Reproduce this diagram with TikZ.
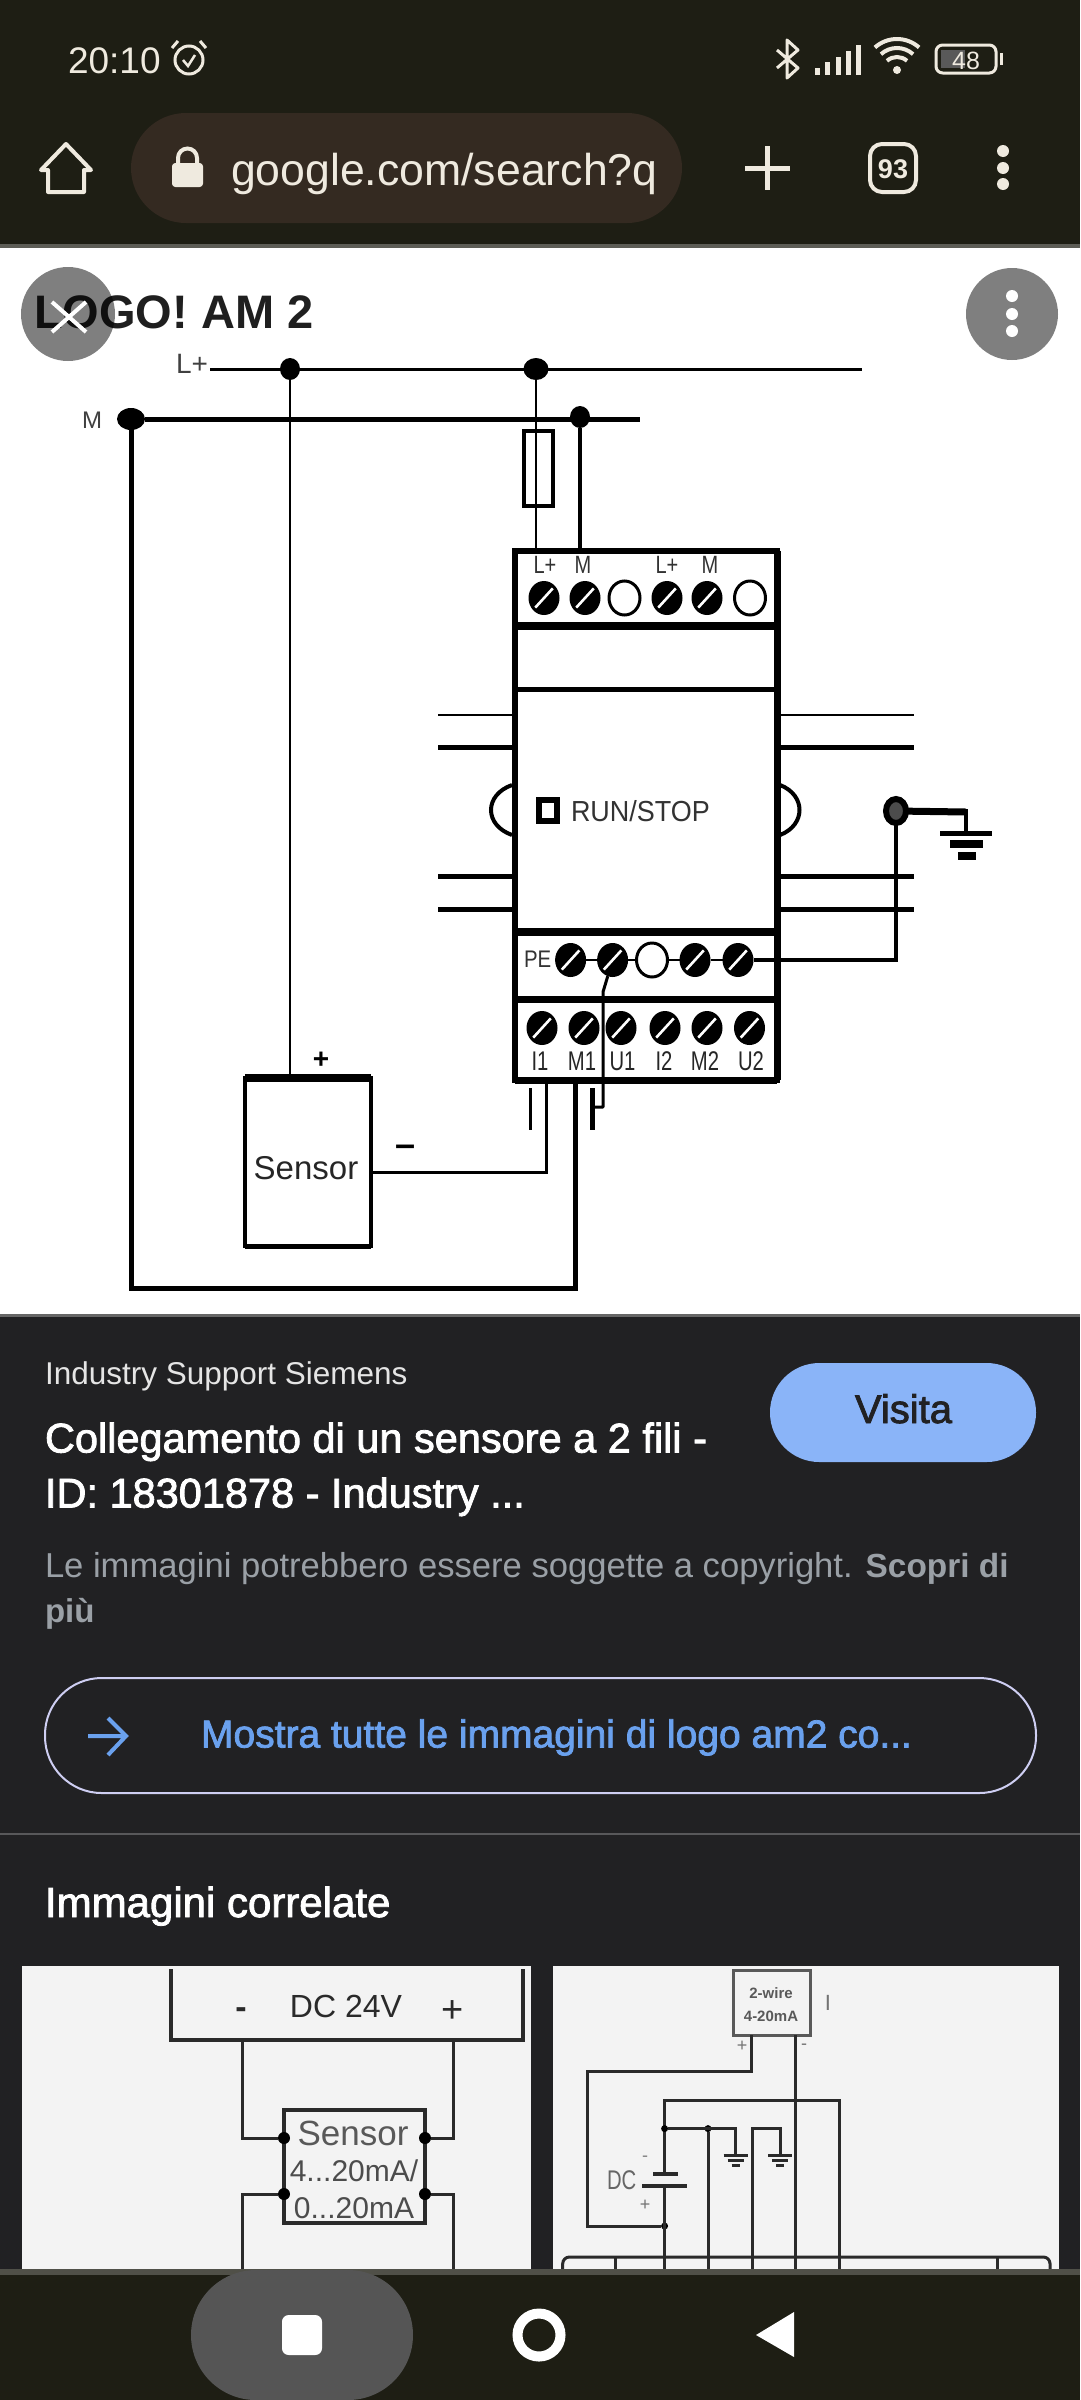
\documentclass[tikz,border=0pt]{standalone}
\usepackage{fontspec}
\usetikzlibrary{shapes.geometric}
\setmainfont{Liberation Sans}
\newfontfamily\medf[FakeBold=2]{Liberation Sans}
\newcommand\fs[1]{\fontsize{\fpeval{#1*0.8536}pt}{\fpeval{#1*1.0}pt}\selectfont}
\newcommand\px[1]{\fpeval{#1*0.03}cm}
\definecolor{barbg}{HTML}{1E1E14}
\definecolor{urlbg}{HTML}{342A21}
\definecolor{icon}{HTML}{EFEADF}
\definecolor{panel}{HTML}{212123}
\definecolor{pillblue}{HTML}{8AB4F8}
\definecolor{linkblue}{HTML}{6AA1EE}
\definecolor{grayt}{HTML}{9AA0A6}
\definecolor{card}{HTML}{F3F3F3}
\definecolor{cardink}{HTML}{2A2A2A}
\definecolor{navpill}{HTML}{555555}
\tikzset{
  lw/.style={line width=\fpeval{#1*0.8536}pt},
  txt/.style={inner sep=0,outer sep=0,anchor=base west},
  ctxt/.style={inner sep=0,outer sep=0,anchor=base},
  screwbase/.style={ellipse,inner sep=0,outer sep=0,minimum width={\px{31}},minimum height={\px{34}}},
  screwf/.style={screwbase,fill=black,path picture={\draw[white,lw=2.6,shorten <=\px{10},shorten >=\px{10}] (path picture bounding box.south west)--(path picture bounding box.north east);}},
  screwo/.style={screwbase,draw=black,fill=white,lw=3},
  jdot/.style={ellipse,fill=black,inner sep=0,outer sep=0,minimum width={\px{20}},minimum height={\px{22}}},
  cdot/.style={circle,fill=black,inner sep=0,outer sep=0,minimum size={\px{12}}},
  cwire/.style={draw=cardink,lw=3},
}
\begin{document}
\begin{tikzpicture}[x=0.03cm,y=-0.03cm]
\useasboundingbox (0,0) rectangle (1080,2400);
% ---------- backgrounds
\fill[white] (0,0) rectangle (1080,1316);
\fill[barbg] (0,0) rectangle (1080,245);
\fill[white!28!barbg] (0,244) rectangle (1080,248);
% ---------- status bar
\node[txt,text=icon] (clock) at (68,73) {\fs{37}20:10};
\draw[icon,lw=3] (189,60) circle (14);
\draw[icon,lw=2.5] (183,60)--(188,66)--(195,55);
\draw[icon,lw=3] (172,48)--(178,41) (206,48)--(200,41);
\draw[icon,lw=3,line join=round] (777,50)--(798,68)--(787,78)--(787,40)--(798,50)--(777,68);
\foreach \i/\t in {0/68,1/62,2/57,3/51,4/45}
  \fill[icon] ({815+\i*10.3},\t) rectangle ({820+\i*10.3},75);
\foreach \r in {15,24,33}
  \draw[icon,lw=4] (897,72) ++(-48:\r) arc[start angle=-48,end angle=-132,radius=\r];
\fill[icon] (897,70) circle (4);
\draw[icon,lw=3,rounded corners=0.2cm] (936,45) rectangle (996,73);
\fill[gray!70!black] (941,50) rectangle (965,68);
\fill[icon] (1000,53) rectangle (1003,65);
\node[ctxt,text=icon] (batt) at (966,69) {\fs{25}48};
% ---------- toolbar
\draw[icon,lw=4,line join=round] (66,144)--(91,170)--(84,170)--(84,192)--(48,192)--(48,170)--(41,170)--cycle;
\fill[urlbg,rounded corners=1.65cm] (131,113) rectangle (682,223);
\fill[icon,rounded corners=0.1cm] (172,163) rectangle (203,187);
\draw[icon,lw=4] (178,164)--(178,158) arc[start angle=180,end angle=360,radius=9.5]--(197,164);
\node[txt,text=icon] (url) at (231,185) {\fs{44.6}google.com/search?q};
\draw[icon,lw=5] (745,168)--(790,168) (767,146)--(767,190);
\draw[icon,lw=4,rounded corners=0.36cm] (870,144) rectangle (916,192);
\node[ctxt,text=icon] (tabs) at (893,178) {\fs{27}\bfseries 93};
\foreach \y in {151,168,184} \fill[icon] (1003,\y) circle (6);
% ---------- diagram
\node[txt,text=black!88] (title) at (34,328) {\fs{47}\bfseries LOGO! AM 2};
\node[txt,text=black!75] (lLp) at (176,373) {\fs{28}L+};
\node[ctxt,text=black!75] (lM) at (92,428) {\fs{24}M};
% supply rails
\coordinate (Lstart) at (210,369); \coordinate (Lend) at (862,369);
\coordinate (Mend) at (640,419);
\node[jdot] (jL1) at (290,369) {};
\node[jdot,minimum width={\px{25}}] (jL2) at (536,369) {};
\node[jdot,minimum width={\px{28}}] (jM1) at (131,419) {};
\node[jdot] (jM2) at (580,417) {};
\draw[lw=3] (Lstart)--(Lend);
\draw[lw=5] (jM1)--(Mend);
% module
\node[draw=black,lw=6,inner sep=0,outer sep=0,minimum width={\px{262}},minimum height={\px{529}},fill=white] (mod) at (646,815.5) {};
\draw[lw=8] (mod.west |- 0,626)--(mod.east |- 0,626);
\draw[lw=5] (mod.west |- 0,689)--(mod.east |- 0,689);
\draw[lw=8] (mod.west |- 0,932)--(mod.east |- 0,932);
\draw[lw=7] (mod.west |- 0,999)--(mod.east |- 0,999);
\draw[lw=7] (mod.south west)--(mod.south east);
\draw[lw=7] (mod.north east)--(mod.south east);
% fuse and supply drops
\node[draw=black,lw=4,fill=white,inner sep=0,outer sep=0,minimum width={\px{29}},minimum height={\px{75}}] (fuse) at (538,468) {};
\draw[lw=4] (fuse.north west)--(fuse.north east);
\draw[lw=2.5] (jL2)--(jL2 |- mod.north);
\draw[lw=4] (jM2)--(jM2 |- mod.north);
% rails of the DIN clip
\foreach \y/\w in {715/2,747/5,876/5,909/5}{
  \draw[lw=\w] (438,\y)--(mod.west |- 0,\y);
  \draw[lw=\w] (mod.east |- 0,\y)--(914,\y);
}
\draw[lw=4] (512,785) .. controls (484,795) and (484,825) .. (512,835);
\draw[lw=4] (780,785) .. controls (806,795) and (806,825) .. (780,835);
% top terminals
\foreach \n/\x in {t1/544,t2/585,t4/667,t5/707} \node[screwf] (\n) at (\x,598) {};
\foreach \n/\x in {t3/624.5,t6/750} \node[screwo] (\n) at (\x,598) {};
\foreach \x/\t in {545/L+,583/M,667/L+,710/M}
  \node[ctxt,text=black!80] at (\x,573) {\scalebox{0.8}[1]{\fs{25}\t}};
% run stop
\node[draw=black,lw=6,fill=white,inner sep=0,outer sep=0,minimum width={\px{18}},minimum height={\px{21}}] (btn) at (548,810) {};
\node[txt,text=black!80] (runstop) at (571,821) {\scalebox{0.93}[1]{\fs{29}RUN/STOP}};
% PE row
\foreach \n/\x in {p1/570.6,p2/612.6,p4/695,p5/738} \node[screwf] (\n) at (\x,960) {};
\node[screwo] (p3) at (652,960) {};
\draw[lw=2] (p1)--(p2) (p2)--(p3) (p3)--(p4) (p4)--(p5);
\node[txt,text=black!80] (lPE) at (524,967) {\scalebox{0.85}[1]{\fs{24}PE}};
% earth
\node[ellipse,fill=black!70,draw=black,lw=6,inner sep=0,outer sep=0,minimum width={\px{20}},minimum height={\px{24}}] (gnode) at (896,811) {};
\coordinate (gtop) at (966,812); \coordinate (gbar) at (966,831);
\draw[lw=7] (gnode)--(gtop);
\draw[lw=4] (966,809)--(gbar);
\draw[lw=5] (940,833)--(992,833);
\draw[lw=8] (950,844)--(983,844);
\draw[lw=8] (958,856)--(976,856);
\draw[lw=4] (p5)-|(gnode);
% bottom terminals
\foreach \n/\x in {i1/542,m1/584,u1/621,i2/665,m2/707,u2/749.5} \node[screwf] (\n) at (\x,1028) {};
\foreach \x/\t in {540/I1,582/M1,622.5/U1,664/I2,705/M2,751/U2}
  \node[ctxt,text=black!85] at (\x,1070) {\scalebox{0.75}[1]{\fs{27}\t}};
% PE jumper
\coordinate (je) at (603,992); \coordinate (jb) at (603,1107); \coordinate (jc) at (592,1107);
\draw[lw=3,line join=round] (p2)--(je)--(jb)--(jc);
\draw[lw=5] (592,1088)--(592,1130);
\draw[lw=3] (530,1088)--(530,1130);
% sensor
\node[draw=black,lw=4,fill=white,inner sep=0,outer sep=0,minimum width={\px{126}},minimum height={\px{168}}] (sensor) at (308,1162) {};
\draw[lw=8] (sensor.north west)--(sensor.north east);
\draw[lw=5] (sensor.south west)--(sensor.south east);
\node[ctxt,text=black!85] (lSensor) at (306,1179) {\fs{33}Sensor};
\node[ctxt] (lplus) at (321,1068) {\fs{28}\bfseries +};
\node[ctxt] (lminus) at (406,1156) {\fs{36}\bfseries –};
\draw[lw=2] (jL1)--(jL1 |- sensor.north);
\coordinate (i1foot) at (546,1083);
\draw[lw=3] (sensor.east |- 0,1172)-|(i1foot);
\coordinate (m1foot) at (575,1083); \coordinate (loopR) at (575,1288); \coordinate (loopL) at (131,1288);
\draw[lw=5,line join=miter] (jM1)--(loopL)--(loopR)--(m1foot);
% ---------- overlay buttons
\fill[black,opacity=.5] (68,314) circle (47);
\fill[black,opacity=.5] (1012,314) circle (46);
\draw[white,lw=4] (52,302)--(86,332) (86,302)--(52,332);
\foreach \y in {296,314,331} \fill[white] (1012,\y) circle (6);
% ---------- info panel
\fill[panel] (0,1316) rectangle (1080,2272);
\fill[black!60] (0,1314) rectangle (1080,1317);
\node[txt,text=white!90!black] (src) at (45,1384) {\fs{31.5}Industry Support Siemens};
\node[txt,text=white] (t1l) at (45,1452.5) {\fs{41.5}\medf Collegamento di un sensore a 2 fili -};
\node[txt,text=white] (t2l) at (45,1507.5) {\fs{41.5}\medf ID: 18301878 - Industry ...};
\node[txt,text=grayt] (c1l) at (45,1577) {\fs{34.6}Le immagini potrebbero essere soggette a copyright. \fs{33.4}\bfseries Scopri di};
\node[txt,text=grayt] (c2l) at (45,1622) {\fs{33}\bfseries più};
\fill[pillblue,rounded corners=1.48cm] (770,1363) rectangle (1036,1462);
\node[ctxt,text=panel] (visita) at (903.5,1423) {\fs{40}\medf Visita};
\draw[white!85!blue!95!black,lw=2,rounded corners=1.7cm] (45,1678) rectangle (1036,1793);
\draw[linkblue,lw=4,line join=miter] (88,1736)--(124,1736) (108,1718)--(126,1736)--(108,1755);
\node[txt,text=linkblue] (more) at (201,1747.5) {\fs{39}\medf Mostra tutte le immagini di logo am2 co...};
\fill[white!25!panel] (0,1833) rectangle (1080,1835);
\node[txt,text=white] (rel) at (45,1917) {\fs{42}\medf Immagini correlate};
% ---------- card 1
\fill[card] (22,1966) rectangle (531,2272);
\fill[card] (553,1966) rectangle (1059,2272);
\coordinate (bxTL) at (171,1969); \coordinate (bxBL) at (171,2040); \coordinate (bxBR) at (523,2040); \coordinate (bxTR) at (523,1969);
\draw[cwire,lw=4] (bxTL)--(bxBL)--(bxBR)--(bxTR);
\node[ctxt,text=cardink] (dcm) at (241,2018) {\fs{34}\bfseries -};
\node[ctxt,text=cardink] (dc) at (346,2017) {\fs{32}DC 24V};
\node[ctxt,text=cardink] (dcp) at (453,2022) {\fs{38}+};
\node[draw=cardink,lw=4,fill=card,inner sep=0,outer sep=0,minimum width={\px{141}},minimum height={\px{113}}] (sbox) at (354.5,2166.5) {};
\node[ctxt,text=black!65] (s1) at (353,2145) {\fs{35}Sensor};
\node[ctxt,text=black!70] (s2) at (354,2181) {\fs{30}4...20mA/};
\node[ctxt,text=black!70] (s3) at (354,2218) {\fs{30}0...20mA};
\node[cdot] (d1) at (284,2138) {}; \node[cdot] (d2) at (425,2138) {};
\node[cdot] (d3) at (284,2194) {}; \node[cdot] (d4) at (425,2194) {};
\coordinate (wa) at (242,2040); \coordinate (wb) at (453,2040); \coordinate (wc) at (242,2275); \coordinate (wd) at (453,2275);
\draw[cwire] (wa)|-(d1); \draw[cwire] (wb)|-(d2);
\draw[cwire] (d3)-|(wc); \draw[cwire] (d4)-|(wd);
% ---------- card 2
\node[draw=black!65,lw=3,fill=card,inner sep=0,outer sep=0,minimum width={\px{77}},minimum height={\px{65}}] (wbox) at (772,2002.5) {};
\node[ctxt,text=black!65] (w1) at (771,1998) {\fs{15}\bfseries 2-wire};
\node[ctxt,text=black!65] (w2) at (771,2021) {\fs{15}\bfseries 4-20mA};
\node[ctxt,text=black!55] (wI) at (828,2010) {\fs{22}I};
\node[ctxt,text=black!55] (wp) at (742,2051) {\fs{18}+};
\node[ctxt,text=black!55] (wm) at (804,2049) {\fs{18}-};
\coordinate (a1) at (751,2035); \coordinate (a2) at (751,2071); \coordinate (a3) at (587.5,2071); \coordinate (a4) at (587.5,2226);
\node[cdot,minimum size={\px{7}}] (a5) at (664.6,2226) {};
\draw[cwire] (a1)--(a2)--(a3)--(a4)--(a5);
\coordinate (b1) at (795.5,2035); \coordinate (b2) at (795.5,2275);
\draw[cwire] (b1)--(b2);
\coordinate (c0) at (839,2275); \coordinate (c1) at (839,2100); \coordinate (c2) at (664.6,2100); \coordinate (c3) at (664.6,2174);
\coordinate (c4) at (664.6,2186); \coordinate (c5) at (664.6,2275);
\draw[cwire] (c0)--(c1)--(c2)--(c3);
\draw[cwire] (c4)--(c5);
\draw[cardink,lw=4] (653,2174)--(678,2174);
\draw[cardink,lw=4] (642,2186)--(687,2186);
\node[ctxt,text=black!50] (bm) at (645,2161) {\fs{18}-};
\node[txt,text=black!60] (bdc) at (607,2189) {\scalebox{0.75}[1]{\fs{27}DC}};
\node[ctxt,text=black!55] (bp) at (645,2210) {\fs{18}+};
\node[cdot,minimum size={\px{7}}] (e0) at (664.6,2128.6) {};
\node[cdot,minimum size={\px{7}}] (e1) at (708,2128.6) {};
\coordinate (e2) at (735.5,2128.6); \coordinate (e3) at (735.5,2154);
\draw[cwire] (e0)--(e2)--(e3);
\coordinate (f1) at (708,2275); \draw[cwire] (e1)--(f1);
\coordinate (g1) at (752,2275); \coordinate (g2) at (752,2128.6); \coordinate (g3) at (780,2128.6); \coordinate (g4) at (780,2154);
\draw[cwire] (g1)--(g2)--(g3)--(g4);
\foreach \x in {735.5,780}{
  \draw[cardink,lw=3] (\x-12,2155)--(\x+12,2155);
  \draw[cardink,lw=3] (\x-8,2160)--(\x+8,2160);
  \draw[cardink,lw=3] (\x-4,2165)--(\x+4,2165);
}
\draw[cwire,rounded corners=0.2cm] (562.7,2280)--(562.7,2257)--(1050,2257)--(1050,2280);
\draw[cwire] (615,2257)--(615,2275) (997,2257)--(997,2275);
% ---------- nav bar
\fill[barbg] (0,2271) rectangle (1080,2400);
\fill[white!22!barbg] (0,2269) rectangle (1080,2275);
\fill[navpill,rounded corners=1.95cm] (191,2270) rectangle (413,2400);
\fill[white,rounded corners=0.2cm] (282,2315) rectangle (322,2355);
\draw[white,lw=10] (539,2335) circle (21.5);
\fill[white] (794,2312)--(794,2357)--(756,2335)--cycle;
\end{tikzpicture}
\end{document}
